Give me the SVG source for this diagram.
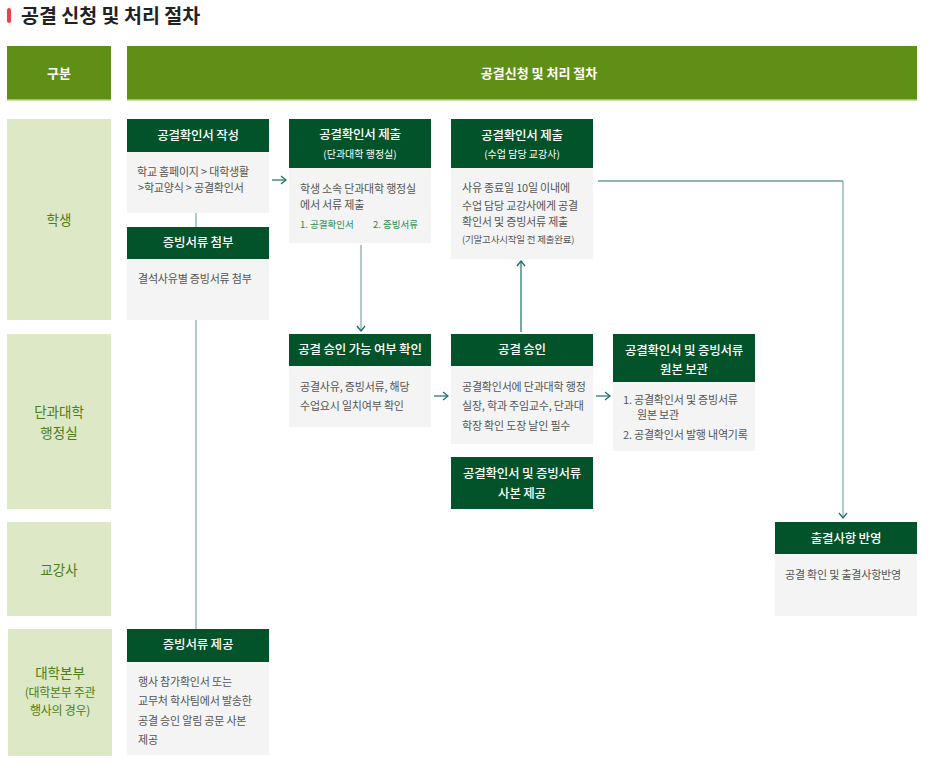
<svg xmlns="http://www.w3.org/2000/svg" width="931" height="769" viewBox="0 0 931 769">
<defs>
<style>
text{font-family:"Noto Sans CJK KR","Noto Sans",sans-serif}
.title{font-size:19.5px;font-weight:700;fill:#222}
.hbar{fill:#5f8f17}
.htx{font-size:13px;font-weight:700;fill:#fff;text-anchor:middle}
.lab{fill:#dce8c6}
.ltx{font-size:13.5px;fill:#4e7d18;text-anchor:middle}
.ltxs{font-size:12px;fill:#4e7d18;text-anchor:middle;letter-spacing:-0.3px}
.bh{fill:#02532a}
.bb{fill:#f4f4f4}
.bht{font-size:12.5px;fill:#fff;text-anchor:middle;font-weight:500;letter-spacing:-0.2px}
.bhs{font-size:10px;fill:#fff;text-anchor:middle}
.bt{font-size:11px;fill:#555;letter-spacing:-0.2px}
.bts{font-size:9.5px;fill:#555;letter-spacing:-0.2px}
.gt{font-size:9.5px;fill:#1f8a4c}
.ln{fill:none;stroke:#7aa9a6;stroke-width:1.2}
.ar{fill:none;stroke:#1c6f6b;stroke-width:1.2}
</style>
<marker id="ch" viewBox="0 0 10 10" refX="9" refY="5" markerWidth="10" markerHeight="10" markerUnits="userSpaceOnUse" orient="auto">
<path d="M4,1 L9,5 L4,9" fill="none" stroke="#1c6f6b" stroke-width="1.3"/>
</marker>
</defs>
<rect width="931" height="769" fill="#fff"/>
<g id="title">
<rect x="7" y="8" width="4" height="15" rx="2" fill="#e8414f"/>
<text class="title" x="21" y="22.5">공결 신청 및 처리 절차</text>
</g>
<g id="header">
<rect class="hbar" x="7" y="46" width="104" height="54"/>
<rect x="7" y="99" width="104" height="1.5" fill="#9fc06a"/>
<text class="htx" x="59" y="78">구분</text>
<rect class="hbar" x="127" y="46" width="790" height="54"/>
<rect x="127" y="99" width="790" height="1.5" fill="#9fc06a"/>
<text class="htx" x="539" y="78">공결신청 및 처리 절차</text>
</g>
<g id="lanes">
<g id="lane-student"><rect class="lab" x="7" y="119" width="104" height="201"/><text class="ltx" x="59" y="225">학생</text></g>
<g id="lane-college"><rect class="lab" x="7" y="334" width="104" height="175"/><text class="ltx" x="59" y="417">단과대학</text><text class="ltx" x="59" y="438">행정실</text></g>
<g id="lane-prof"><rect class="lab" x="7" y="522" width="104" height="94"/><text class="ltx" x="59" y="575">교강사</text></g>
<g id="lane-hq"><rect class="lab" x="8" y="629" width="104" height="127"/><text class="ltx" x="60" y="678">대학본부</text><text class="ltxs" x="60" y="697">(대학본부 주관</text><text class="ltxs" x="60" y="715">행사의 경우)</text></g>
</g>
<g id="connectors">
<line class="ln" x1="196" y1="213" x2="196" y2="227"/>
<line class="ln" x1="196" y1="320" x2="196" y2="629"/>
<line class="ar" x1="272" y1="180" x2="286" y2="180" marker-end="url(#ch)"/>
<line class="ln" x1="361" y1="245" x2="361" y2="331" marker-end="url(#ch)"/>
<line class="ar" x1="521" y1="332" x2="521" y2="261" marker-end="url(#ch)"/>
<line class="ar" x1="434" y1="396" x2="448" y2="396" marker-end="url(#ch)"/>
<line class="ar" x1="596" y1="396" x2="610" y2="396" marker-end="url(#ch)"/>
<path class="ar" d="M598,181 H843"/>
<line class="ln" x1="843" y1="181" x2="843" y2="518" marker-end="url(#ch)"/>
</g>
<g id="n-write">
<rect class="bh" x="127" y="119" width="142" height="33"/>
<text class="bht" x="198" y="140">공결확인서 작성</text>
<rect class="bb" x="127" y="152" width="142" height="61"/>
<text class="bt" x="137" y="176">학교 홈페이지 &gt; 대학생활</text>
<text class="bt" x="138" y="192">&gt;학교양식 &gt; 공결확인서</text>
</g>
<g id="n-attach">
<rect class="bh" x="127" y="227" width="142" height="32"/>
<text class="bht" x="198" y="247">증빙서류 첨부</text>
<rect class="bb" x="127" y="259" width="142" height="61"/>
<text class="bt" x="138" y="283">결석사유별 증빙서류 첨부</text>
</g>
<g id="n-provide">
<rect class="bh" x="127" y="629" width="142" height="33"/>
<text class="bht" x="198" y="649">증빙서류 제공</text>
<rect class="bb" x="127" y="662" width="142" height="93"/>
<text class="bt" x="138" y="686">행사 참가확인서 또는</text>
<text class="bt" x="138" y="705">교무처 학사팀에서 발송한</text>
<text class="bt" x="138" y="725">공결 승인 알림 공문 사본</text>
<text class="bt" x="138" y="744">제공</text>
</g>
<g id="n-submit-college">
<rect class="bh" x="289" y="119" width="142" height="49"/>
<text class="bht" x="360" y="139">공결확인서 제출</text>
<text class="bhs" x="360" y="158">(단과대학 행정실)</text>
<rect class="bb" x="289" y="168" width="142" height="75"/>
<text class="bt" x="300" y="193">학생 소속 단과대학 행정실</text>
<text class="bt" x="300" y="209">에서 서류 제출</text>
<text class="gt" x="300" y="228">1. 공결확인서</text>
<text class="gt" x="373" y="228">2. 증빙서류</text>
</g>
<g id="n-submit-prof">
<rect class="bh" x="451" y="119" width="142" height="49"/>
<text class="bht" x="522" y="140">공결확인서 제출</text>
<text class="bhs" x="522" y="158">(수업 담당 교강사)</text>
<rect class="bb" x="451" y="168" width="142" height="91"/>
<text class="bt" x="462" y="192">사유 종료일 10일 이내에</text>
<text class="bt" x="462" y="210">수업 담당 교강사에게 공결</text>
<text class="bt" x="462" y="226">확인서 및 증빙서류 제출</text>
<text class="bts" x="462" y="243">(기말고사시작일 전 제출완료)</text>
</g>
<g id="n-check">
<rect class="bh" x="289" y="334" width="142" height="32"/>
<text class="bht" x="360" y="354">공결 승인 가능 여부 확인</text>
<rect class="bb" x="289" y="366" width="142" height="61"/>
<text class="bt" x="300" y="391">공결사유, 증빙서류, 해당</text>
<text class="bt" x="300" y="410">수업요시 일치여부 확인</text>
</g>
<g id="n-approve">
<rect class="bh" x="451" y="334" width="142" height="32"/>
<text class="bht" x="522" y="354">공결 승인</text>
<rect class="bb" x="451" y="366" width="142" height="78"/>
<text class="bt" x="462" y="391">공결확인서에 단과대학 행정</text>
<text class="bt" x="462" y="410">실장, 학과 주임교수, 단과대</text>
<text class="bt" x="462" y="430">학장 확인 도장 날인 필수</text>
</g>
<g id="n-copy">
<rect class="bh" x="451" y="457" width="142" height="52"/>
<text class="bht" x="522" y="478">공결확인서 및 증빙서류</text>
<text class="bht" x="522" y="498">사본 제공</text>
</g>
<g id="n-keep">
<rect class="bh" x="613" y="334" width="142" height="48"/>
<text class="bht" x="684" y="355">공결확인서 및 증빙서류</text>
<text class="bht" x="684" y="374">원본 보관</text>
<rect class="bb" x="613" y="382" width="142" height="69"/>
<text class="bt" x="623" y="404">1. 공결확인서 및 증빙서류</text>
<text class="bt" x="637" y="419">원본 보관</text>
<text class="bt" x="623" y="439">2. 공결확인서 발행 내역기록</text>
</g>
<g id="n-reflect">
<rect class="bh" x="775" y="522" width="142" height="32"/>
<text class="bht" x="846" y="543">출결사항 반영</text>
<rect class="bb" x="775" y="554" width="142" height="62"/>
<text class="bt" x="785" y="579">공결 확인 및 출결사항반영</text>
</g>
</svg>
